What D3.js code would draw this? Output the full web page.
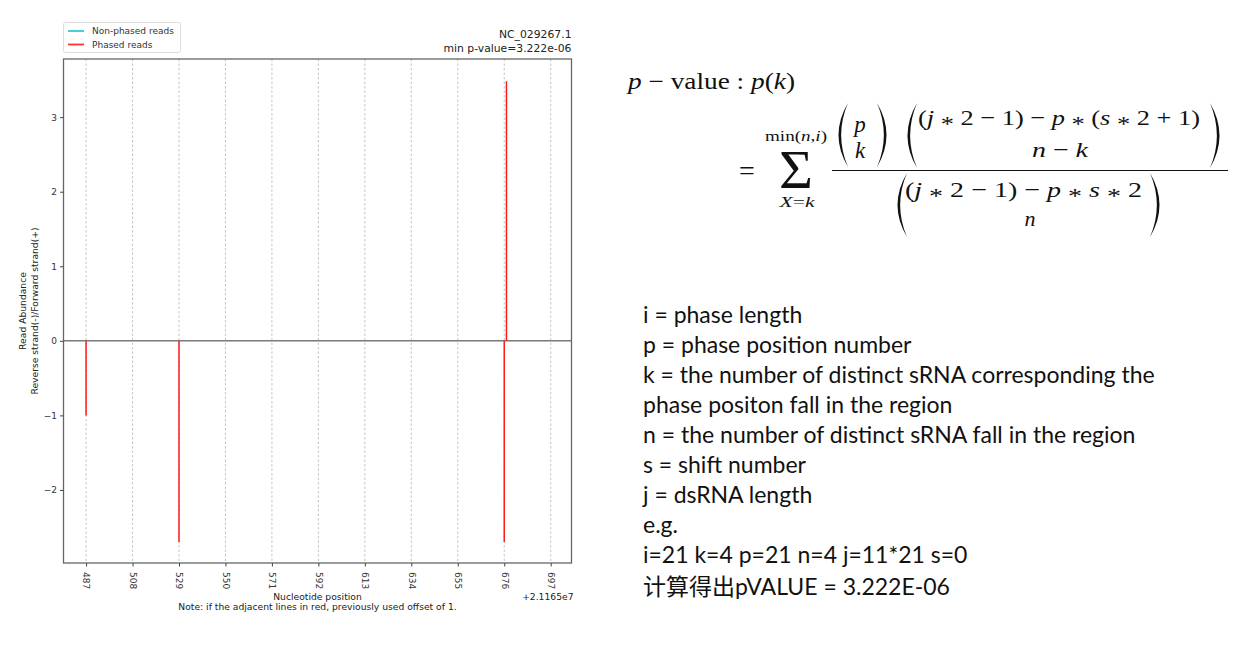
<!DOCTYPE html>
<html>
<head>
<meta charset="utf-8">
<script src="https://cdn.jsdelivr.net/npm/d3@7"></script>
<style>
  body { margin: 0; background: #fff; }
  svg { display: block; }
  .mpl { font-family: "DejaVu Sans", sans-serif; fill: #222; }
  .math { font-family: "Liberation Serif", "Times New Roman", serif; fill: #111; }
  .math .v { font-style: italic; }
  .notes { font-family: Lato, "Open Sans", sans-serif; fill: #111; }
</style>
</head>
<body>
<svg id="fig" width="1240" height="648"></svg>
<script>
// read positions (offset from 2.1165e7) and signed abundance
var positions = [487, 529, 676, 677];
var abundance = [-1, -2.7, -2.7, 3.48];
var phased = [true, true, true, true];

var xTicks = [487, 508, 529, 550, 571, 592, 613, 634, 655, 676, 697];
var yTicks = [-2, -1, 0, 1, 2, 3];

var legendLabels = ['Non-phased reads', 'Phased reads'];
var legendColors = ['#2ccfcf', '#ff3333'];

var titleLines = ['NC_029267.1', 'min p-value=3.222e-06'];

var noteLines = [
  'i = phase length',
  'p = phase position number',
  'k = the number of distinct sRNA corresponding the',
  'phase positon fall in the region',
  'n = the number of distinct sRNA fall in the region',
  's = shift number',
  'j = dsRNA length',
  'e.g.',
  'i=21 k=4 p=21 n=4 j=11*21 s=0',
  '计算得出pVALUE = 3.222E-06'
];

var svg = d3.select('#fig');
svg.append('rect').attr('width', 1240).attr('height', 648).attr('fill', '#fff');

var plot = {left: 63.5, right: 571.5, top: 59, bottom: 563};

var x = d3.scaleLinear().domain([476.8, 706.4]).range([plot.left, plot.right]);
var y = d3.scaleLinear().domain([-2.98, 3.78]).range([plot.bottom, plot.top]);

var g = svg.append('g').attr('class', 'mpl');

// vertical dashed grid
g.selectAll('.grid')
  .data(xTicks)
  .enter().append('line')
  .attr('class', 'grid')
  .attr('x1', x).attr('x2', x)
  .attr('y1', plot.top).attr('y2', plot.bottom)
  .attr('stroke', '#b8b8b8')
  .attr('stroke-width', 0.8)
  .attr('stroke-dasharray', '2.5,2');

// zero line
g.append('line')
  .attr('x1', plot.left).attr('x2', plot.right)
  .attr('y1', y(0)).attr('y2', y(0))
  .attr('stroke', '#7a7a7a')
  .attr('stroke-width', 1.6);

// read bars
g.selectAll('.read')
  .data(positions)
  .enter().append('line')
  .attr('class', 'read')
  .attr('x1', function(d) { return x(d); })
  .attr('x2', function(d) { return x(d); })
  .attr('y1', y(0))
  .attr('y2', function(d, i) { return y(abundance[i]); })
  .attr('stroke', function(d, i) { return phased[i] ? '#ff1a1a' : '#22cccc'; })
  .attr('stroke-width', 1.5);

// frame
g.append('rect')
  .attr('x', plot.left).attr('y', plot.top)
  .attr('width', plot.right - plot.left).attr('height', plot.bottom - plot.top)
  .attr('fill', 'none').attr('stroke', '#666').attr('stroke-width', 1.3);

// axes
var xAxis = d3.axisBottom(x).tickValues(xTicks).tickSize(3.5).tickPadding(3);
var xg = g.append('g').attr('transform', 'translate(0,' + plot.bottom + ')').call(xAxis);
xg.select('.domain').remove();
xg.selectAll('line').attr('stroke', '#444');
xg.selectAll('text')
  .attr('transform', 'rotate(90)')
  .attr('x', 9).attr('y', 0).attr('dy', '0.35em')
  .style('text-anchor', 'start')
  .attr('font-size', 9).attr('fill', '#333')
  .attr('font-family', '"DejaVu Sans", sans-serif');

var yAxis = d3.axisLeft(y).tickValues(yTicks).tickSize(3.5).tickPadding(3)
  .tickFormat(function(d) { return d < 0 ? '\u2212' + Math.abs(d) : d; });
var yg = g.append('g').attr('transform', 'translate(' + plot.left + ',0)').call(yAxis);
yg.select('.domain').remove();
yg.selectAll('line').attr('stroke', '#444');
yg.selectAll('text').attr('font-size', 9).attr('fill', '#333')
  .attr('font-family', '"DejaVu Sans", sans-serif');

// axis labels
g.append('text')
  .attr('x', (plot.left + plot.right) / 2).attr('y', 600)
  .attr('text-anchor', 'middle').attr('font-size', 9.2)
  .text('Nucleotide position');
g.append('text')
  .attr('x', (plot.left + plot.right) / 2).attr('y', 610)
  .attr('text-anchor', 'middle').attr('font-size', 9.2)
  .text('Note: if the adjacent lines in red, previously used offset of 1.');
g.append('text')
  .attr('x', plot.right + 2).attr('y', 600)
  .attr('text-anchor', 'end').attr('font-size', 9.2)
  .text('+2.1165e7');

var ylab = g.append('text')
  .attr('transform', 'translate(26,' + (plot.top + plot.bottom) / 2 + ') rotate(-90)')
  .attr('text-anchor', 'middle').attr('font-size', 9.2);
ylab.append('tspan').attr('x', 0).attr('y', 0).text('Read Abundance');
ylab.append('tspan').attr('x', 0).attr('y', 11.5).text('Reverse strand(-)/Forward strand(+)');

// title, right aligned
g.selectAll('.title')
  .data(titleLines)
  .enter().append('text')
  .attr('class', 'title')
  .attr('x', plot.right)
  .attr('y', function(d, i) { return 38 + i * 13.5; })
  .attr('text-anchor', 'end').attr('font-size', 10.8)
  .text(function(d) { return d; });

// legend
var lg = g.append('g');
lg.append('rect')
  .attr('x', 63.5).attr('y', 22.5).attr('width', 117).attr('height', 30)
  .attr('rx', 2).attr('fill', '#fff').attr('stroke', '#ddd').attr('stroke-width', 1);
var items = lg.selectAll('.item')
  .data(legendLabels)
  .enter().append('g')
  .attr('class', 'item')
  .attr('transform', function(d, i) { return 'translate(0,' + (31 + i * 13.5) + ')'; });
items.append('line')
  .attr('x1', 68).attr('x2', 84).attr('y1', 0).attr('y2', 0)
  .attr('stroke', function(d, i) { return legendColors[i]; })
  .attr('stroke-width', 1.8);
items.append('text')
  .attr('x', 92).attr('y', 0).attr('dy', '0.35em')
  .attr('font-size', 9).attr('fill', '#333')
  .text(function(d) { return d; });

// ---- formula ----
var m = svg.append('g').attr('class', 'math');
var STAR_DROP = 6;

function runs(sel, parts) {
  // parts: [text, italic?]; '*' is drawn lowered to the math axis
  parts.forEach(function(p) {
    var pieces = p[0].split('*');
    pieces.forEach(function(piece, k) {
      if (k > 0) {
        sel.append('tspan').attr('dy', STAR_DROP).text('*');
        sel.append('tspan').attr('dy', -STAR_DROP).attr('class', p[1] ? 'v' : null).text(piece);
      } else if (piece) {
        sel.append('tspan').attr('class', p[1] ? 'v' : null).text(piece);
      }
    });
  });
  return sel;
}

function mtext(xp, yp, size, parts, anchor, width) {
  var t = m.append('text').attr('x', xp).attr('y', yp).attr('font-size', size)
    .attr('text-anchor', anchor || 'start');
  if (width) t.attr('textLength', width).attr('lengthAdjust', 'spacingAndGlyphs');
  return runs(t, parts);
}

// crescent-shaped parenthesis
function paren(xp, y0, y1, left, w) {
  var mid = (y0 + y1) / 2;
  var s = left ? 1 : -1;
  var th = 2.4;
  var tip = xp + s * w;
  var path = 'M' + tip + ',' + y0 +
    ' Q' + (xp - s * w * 0.9) + ',' + mid + ' ' + tip + ',' + y1 +
    ' Q' + (xp - s * w * 0.9 + s * th * 2.2) + ',' + mid + ' ' + tip + ',' + y0 + 'Z';
  m.append('path').attr('d', path).attr('fill', '#111');
}

mtext(628, 89, 23, [['p', true], [' \u2212 value : ', false], ['p', true], ['(', false], ['k', true], [')', false]], 'start', 167);

mtext(796, 141, 15, [['min(', false], ['n', true], [',', false], ['i', true], [')', false]], 'middle', 62);
mtext(796, 188, 54, [['\u03A3', false]], 'middle', 34);
mtext(797, 207, 15, [['X', true], ['=', false], ['k', true]], 'middle', 35);
mtext(747, 180, 28, [['=', false]], 'middle');

// fraction bar
m.append('line').attr('x1', 832).attr('x2', 1228).attr('y1', 170.5).attr('y2', 170.5)
  .attr('stroke', '#111').attr('stroke-width', 1.2);

// binom(p, k)
paren(838, 103, 167, true, 10);
paren(887, 103, 167, false, 10);
mtext(860, 132, 23, [['p', true]], 'middle');
mtext(860, 158, 23, [['k', true]], 'middle');

// binom((j*2-1)-p*(s*2+1), n-k)
paren(907, 103, 168, true, 10);
paren(1220, 103, 168, false, 10);
mtext(918, 125, 22, [['(', false], ['j', true], [' * 2 \u2212 1) \u2212 ', false], ['p', true],
  [' * (', false], ['s', true], [' * 2 + 1)', false]], 'start', 282);
mtext(1060, 157, 22, [['n', true], [' \u2212 ', false], ['k', true]], 'middle', 56);

// binom((j*2-1)-p*s*2, n)
paren(897, 173, 237, true, 10);
paren(1160, 173, 237, false, 10);
mtext(905, 197, 22, [['(', false], ['j', true], [' * 2 \u2212 1) \u2212 ', false], ['p', true],
  [' * ', false], ['s', true], [' * 2', false]], 'start', 237);
mtext(1030, 226, 22, [['n', true]], 'middle');

// ---- definitions ----
svg.append('g').attr('class', 'notes')
  .selectAll('text')
  .data(noteLines)
  .enter().append('text')
  .attr('x', 643)
  .attr('y', function(d, i) { return 323 + i * 30 + (i === 9 ? 2 : 0); })
  .attr('font-size', 23)
  .attr('font-family', function(d, i) { return i === 9 ? 'Lato, "Noto Sans CJK SC", sans-serif' : null; })
  .text(function(d) { return d; });
</script>
</body>
</html>
